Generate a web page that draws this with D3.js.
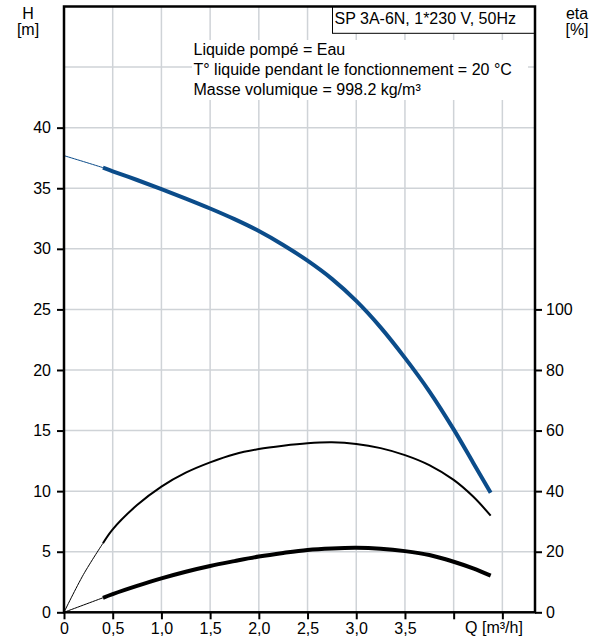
<!DOCTYPE html>
<html><head><meta charset="utf-8">
<script src="https://cdn.jsdelivr.net/npm/d3@7"></script>
<style>
html,body{margin:0;padding:0;background:#fff;}
text{font-family:"Liberation Sans",Arial,sans-serif;font-size:16px;fill:#000;}
</style></head>
<body>
<svg id="chart" width="590" height="637"></svg>
<script>
// ---- data ----
const flowQ   = [0, 0.2, 0.4, 0.5, 0.75, 1.0, 1.25, 1.5, 1.75, 2.0, 2.25, 2.5, 2.75, 3.0, 3.25, 3.5, 3.75, 4.0, 4.2, 4.38];
const headH   = [37.69, 37.2, 36.7, 36.4, 35.68, 34.93, 34.15, 33.33, 32.45, 31.47, 30.32, 29.02, 27.52, 25.7, 23.52, 21.0, 18.24, 15.1, 12.35, 9.87];
const etaPump = [0, 12.5, 22.8, 27.4, 35.4, 41.5, 46.1, 49.5, 52.2, 53.9, 55.0, 55.8, 56.1, 55.6, 54.2, 51.9, 48.6, 43.7, 38.2, 31.9];
const etaTotal= [0, 2.4, 4.8, 6.0, 8.7, 11.2, 13.4, 15.3, 16.9, 18.4, 19.6, 20.6, 21.1, 21.3, 21.0, 20.2, 18.9, 16.7, 14.5, 12.1];
const thinLimitQ = 0.4;
const xTicks   = [0, 0.5, 1.0, 1.5, 2.0, 2.5, 3.0, 3.5, 4.0, 4.5];
const xLabelled = [0, 0.5, 1.0, 1.5, 2.0, 2.5, 3.0, 3.5];
const hTicks   = [0, 5, 10, 15, 20, 25, 30, 35, 40];
const hGrid    = [5, 10, 15, 20, 25, 30, 35, 40, 45];
const etaTicks = [0, 20, 40, 60, 80, 100];
const infoLines = ["Liquide pompé = Eau", "T° liquide pendant le fonctionnement = 20 °C", "Masse volumique = 998.2 kg/m³"];
const titleText = "SP 3A-6N, 1*230 V, 50Hz";

// ---- layout ----
const L = 64, R = 535, T = 6.5, B = 612.3;
const svg = d3.select("#chart");
const x = d3.scaleLinear().domain([0, 4.835]).range([L, R]);
const yH = d3.scaleLinear().domain([0, 50]).range([B, T]);
const yEta = d3.scaleLinear().domain([0, 200]).range([B, T]);
const gridColor = "#cfd3d7";

// grid
svg.append("g").selectAll("line").data(xTicks.filter(d => d > 0)).join("line")
  .attr("x1", d => x(d)).attr("x2", d => x(d)).attr("y1", T).attr("y2", B)
  .attr("stroke", gridColor).attr("stroke-width", 1.5);
svg.append("g").selectAll("line").data(hGrid).join("line")
  .attr("x1", L).attr("x2", R).attr("y1", d => yH(d)).attr("y2", d => yH(d))
  .attr("stroke", gridColor).attr("stroke-width", 1.5);

// info text block with white background
svg.append("rect").attr("x", 192).attr("y", 40).attr("width", 336).attr("height", 60).attr("fill", "#fff");
svg.append("g").selectAll("text").data(infoLines).join("text")
  .attr("x", 193.5).attr("y", (d, i) => 54.5 + i * 20).text(d => d);

// title box
svg.append("rect").attr("x", 332.5).attr("y", T).attr("width", R - 332.5).attr("height", 33.3 - T)
  .attr("fill", "#fff").attr("stroke", "#000").attr("stroke-width", 1);
svg.append("text").attr("x", 334.5).attr("y", 23.5).text(titleText);

// curves
const pts = (vals) => flowQ.map((q, i) => [q, vals[i]]);
function drawCurve(vals, yScale, color, thinW, thickW) {
  const line = d3.line().x(d => x(d[0])).y(d => yScale(d[1])).curve(d3.curveCatmullRom.alpha(0.5));
  const all = pts(vals);
  svg.append("path").attr("d", line(all.filter(d => d[0] <= thinLimitQ)))
    .attr("fill", "none").attr("stroke", color).attr("stroke-width", thinW);
  svg.append("path").attr("d", line(all.filter(d => d[0] >= thinLimitQ)))
    .attr("fill", "none").attr("stroke", color).attr("stroke-width", thickW).attr("stroke-linecap", "butt");
}
drawCurve(etaTotal, yEta, "#000", 1, 4);
drawCurve(etaPump, yEta, "#000", 1, 2);
drawCurve(headH, yH, "#0b4c8a", 1, 4);

// axes
const fmtX = d => d === 0 ? "0" : (xLabelled.includes(d) ? d.toFixed(1).replace(".", ",") : "");
const ax = svg.append("g").attr("transform", `translate(0,${B})`)
  .call(d3.axisBottom(x).tickValues(xTicks).tickSize(7).tickPadding(3).tickFormat(fmtX));
const al = svg.append("g").attr("transform", `translate(${L},0)`)
  .call(d3.axisLeft(yH).tickValues(hTicks).tickSize(7).tickPadding(6).tickFormat(d3.format("d")));
const ar = svg.append("g").attr("transform", `translate(${R},0)`)
  .call(d3.axisRight(yEta).tickValues(etaTicks).tickSize(7).tickPadding(4).tickFormat(d3.format("d")));
[ax, al, ar].forEach(g => {
  g.select(".domain").remove();
  g.selectAll(".tick line").attr("stroke", "#000").attr("stroke-width", 2);
  g.selectAll(".tick text").attr("font-size", 16).attr("font-family", '"Liberation Sans",Arial,sans-serif').attr("fill", "#000");
});

// frame
svg.append("rect").attr("x", L).attr("y", T).attr("width", R - L).attr("height", B - T)
  .attr("fill", "none").attr("stroke", "#000").attr("stroke-width", 2.5);

// axis titles
svg.append("text").attr("x", 28).attr("y", 19).attr("text-anchor", "middle").text("H");
svg.append("text").attr("x", 28).attr("y", 34.5).attr("text-anchor", "middle").text("[m]");
svg.append("text").attr("x", 577).attr("y", 19).attr("text-anchor", "middle").text("eta");
svg.append("text").attr("x", 577).attr("y", 34.5).attr("text-anchor", "middle").text("[%]");
svg.append("text").attr("x", 494).attr("y", 633).attr("text-anchor", "middle").text("Q [m³/h]");
</script>
</body></html>
